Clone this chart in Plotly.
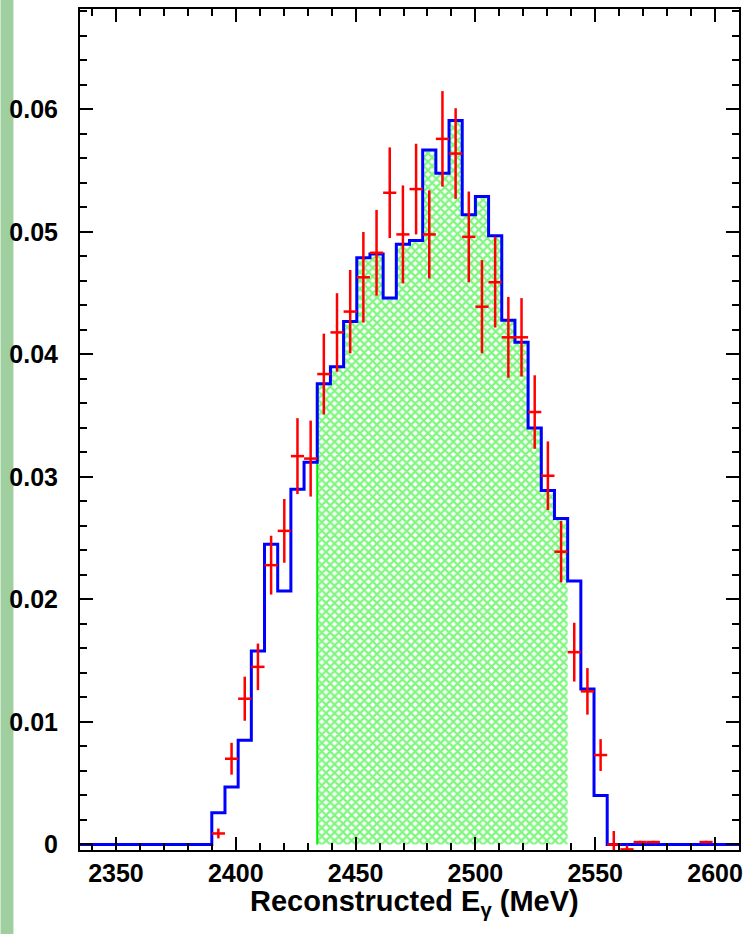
import numpy as np
import plotly.graph_objects as go

# Histogram binning: 50 bins from 2335 to 2610 MeV
x_min, x_max, n_bins = 2335.0, 2610.0, 50

# Simulated (blue) histogram content per bin (bins 0..49)
mc_values = [0.0] * 10 + [
    0.0026, 0.0047, 0.0085, 0.0158, 0.0245, 0.0207, 0.0290, 0.0312, 0.0376, 0.0390,
    0.0427, 0.0479, 0.0482, 0.0446, 0.0490, 0.0493, 0.0567, 0.0548, 0.0591, 0.0514,
    0.0529, 0.0497, 0.0428, 0.0410, 0.0340, 0.0289, 0.0266, 0.0215, 0.0127, 0.0040,
] + [0.0] * 10

# Data points (red): bin index, value, error
data_bins = [10, 11, 12, 13, 14, 15, 16, 17, 18, 19, 20, 21, 22, 23, 24, 25, 26, 27, 28, 29,
             30, 31, 32, 33, 34, 35, 36, 37, 38, 39, 40, 41, 42, 43, 47]
data_values = [0.0009, 0.0070, 0.0119, 0.0145, 0.0228, 0.0256, 0.0317, 0.0315, 0.0384, 0.0418,
               0.0435, 0.0463, 0.0483, 0.0532, 0.0498, 0.0535, 0.0498, 0.0576, 0.0564, 0.0496,
               0.0439, 0.0459, 0.0414, 0.0414, 0.0353, 0.0301, 0.0239, 0.0157, 0.0125, 0.0073,
               0.0000, -0.0004, 0.0002, 0.0002, 0.0002]
data_errors = [0.0004, 0.0013, 0.0018, 0.0019, 0.0024, 0.0026, 0.0031, 0.0031, 0.0033, 0.0032,
               0.0034, 0.0037, 0.0035, 0.0037, 0.0040, 0.0037, 0.0036, 0.0039, 0.0037, 0.0037,
               0.0038, 0.0037, 0.0033, 0.0032, 0.0030, 0.0028, 0.0025, 0.0024, 0.0019, 0.0013,
               0.0011, 0.0003, 0.0001, 0.0001, 0.0001]

# Selected (hatched) bin range
sel_first, sel_last = 18, 36

x_ticks = [2350, 2400, 2450, 2500, 2550, 2600]
y_ticks = [0, 0.01, 0.02, 0.03, 0.04, 0.05, 0.06]
y_range = [-0.00045, 0.0682]

bw = (x_max - x_min) / n_bins
edges = [x_min + bw * i for i in range(n_bins + 1)]
centers = [x_min + bw * (i + 0.5) for i in range(n_bins)]

fig = go.Figure()

green = "#00ee00"

# Green hatched selection
sx = edges[sel_first:sel_last + 2]
sy = mc_values[sel_first:sel_last + 1] + [mc_values[sel_last]]
fig.add_trace(go.Scatter(
    x=sx, y=sy, mode="lines", line=dict(shape="hv", width=0, color=green),
    fill="tozeroy", fillcolor="rgba(0,0,0,0)",
    fillpattern=dict(shape="x", fgcolor=green, bgcolor="rgba(255,255,255,0)",
                     size=6, solidity=0.6),
    showlegend=False, hoverinfo="skip"))
fig.add_trace(go.Scatter(
    x=[edges[sel_first], edges[sel_first]], y=[0, mc_values[sel_first]],
    mode="lines", line=dict(color=green, width=2), showlegend=False))

# Blue histogram
hx = edges
hy = mc_values + [mc_values[-1]]
fig.add_trace(go.Scatter(
    x=hx, y=hy, mode="lines", line=dict(shape="hv", color="#0000ff", width=3),
    showlegend=False))

# Red data points with error bars
fig.add_trace(go.Scatter(
    x=[centers[b] for b in data_bins], y=data_values, mode="markers",
    marker=dict(size=2, color="#ff0000"),
    error_y=dict(type="data", array=data_errors, color="#ff0000", thickness=2.5, width=0),
    error_x=dict(type="constant", value=bw / 2, color="#ff0000", thickness=2.5, width=0),
    showlegend=False))

tickfont = dict(family="Liberation Sans, Arial, sans-serif", size=25, color="black", weight="bold")

fig.update_xaxes(
    range=[x_min, x_max], tickvals=x_ticks, ticktext=[str(v) for v in x_ticks],
    ticks="inside", ticklen=13, tickwidth=2, tickcolor="black",
    minor=dict(dtick=10, ticks="inside", ticklen=7, tickwidth=2, tickcolor="black", showgrid=False),
    showline=True, linewidth=2, linecolor="black", mirror="allticks",
    showgrid=False, zeroline=False, tickfont=tickfont, ticklabelstandoff=0)
fig.update_yaxes(
    range=y_range, tickvals=y_ticks, ticktext=["0", "0.01", "0.02", "0.03", "0.04", "0.05", "0.06"],
    ticks="inside", ticklen=13, tickwidth=2, tickcolor="black",
    minor=dict(dtick=0.002, tick0=0, ticks="inside", ticklen=7, tickwidth=2, tickcolor="black", showgrid=False),
    showline=True, linewidth=2, linecolor="black", mirror="allticks",
    showgrid=False, zeroline=False, tickfont=tickfont, ticklabelstandoff=15)

fig.add_annotation(
    text="Reconstructed E<sub>γ</sub> (MeV)", xref="paper", yref="paper",
    x=(584 - 80) / 663.3, y=-0.0625, xanchor="right", yanchor="middle", showarrow=False,
    font=dict(family="Liberation Sans, Arial, sans-serif", size=29, color="black", weight="bold"))

# Green strip at left edge of the page
fig.add_shape(type="rect", xref="paper", yref="paper",
              x0=-80 / 663.3, x1=-67 / 663.3, y0=-84 / 841, y1=850 / 841,
              fillcolor="#9fcf9f", line=dict(width=0), layer="below")

fig.update_layout(
    width=750, height=934, margin=dict(l=80, r=7, t=9, b=84),
    plot_bgcolor="white", paper_bgcolor="white", showlegend=False)

fig.write_html("out.html")
